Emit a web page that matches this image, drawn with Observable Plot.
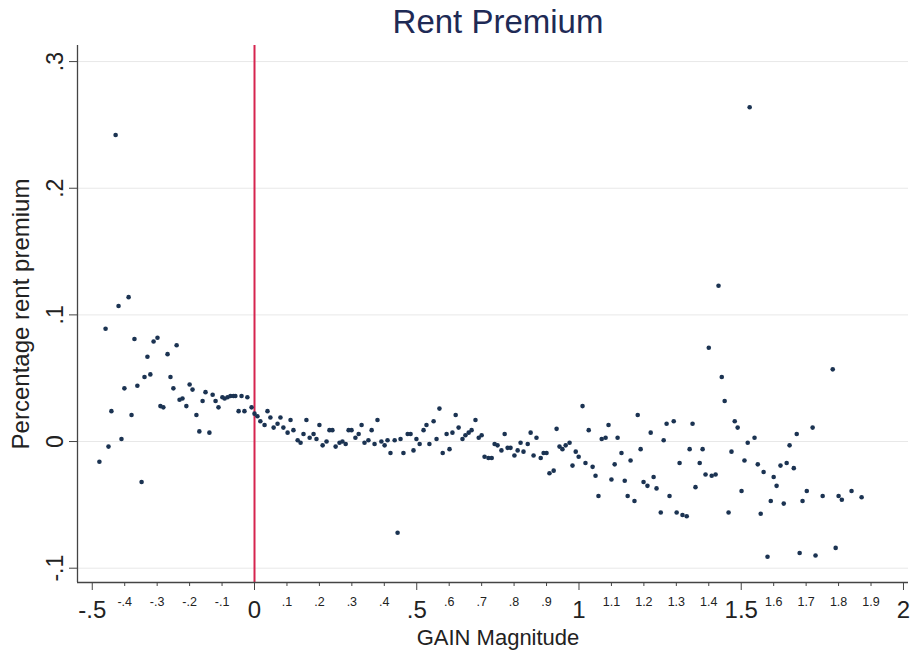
<!DOCTYPE html>
<html>
<head>
<meta charset="utf-8">
<script src="https://cdn.jsdelivr.net/npm/d3@7"></script>
<script src="https://cdn.jsdelivr.net/npm/@observablehq/plot@0.6"></script>
<style>
  html, body { margin: 0; padding: 0; background: #fff; }
  #wrap { position: relative; width: 910px; height: 652px; font-family: "Liberation Sans", Arial, sans-serif; }
  #title { position: absolute; top: 4px; left: 0; width: 910px; padding-left: 86px; box-sizing: border-box;
           text-align: center; font-size: 33px; line-height: 36px; color: #1e2a55; }
  #chart { position: absolute; top: 0; left: 0; }
</style>
</head>
<body>
<div id="wrap">
  <div id="chart"></div>
  <div id="title">Rent Premium</div>
</div>
<script>
const titleText = "Rent Premium";
const yTitle = "Percentage rent premium";
const xTitle = "GAIN Magnitude";

const yTicks = [0.3, 0.2, 0.1, 0, -0.1];
const yTickLabels = [".3", ".2", ".1", "0", "-.1"];
const xMajor = [-0.5, 0, 0.5, 1, 1.5, 2];
const xMajorLabels = ["-.5", "0", ".5", "1", "1.5", "2"];
const xMinor = [-0.4, -0.3, -0.2, -0.1, 0.1, 0.2, 0.3, 0.4, 0.6, 0.7, 0.8, 0.9, 1.1, 1.2, 1.3, 1.4, 1.6, 1.7, 1.8, 1.9];
const xMinorLabels = ["-.4", "-.3", "-.2", "-.1", ".1", ".2", ".3", ".4", ".6", ".7", ".8", ".9", "1.1", "1.2", "1.3", "1.4", "1.6", "1.7", "1.8", "1.9"];
const refLine = [0];

const gainX = [
-0.478,-0.459,-0.450,-0.441,-0.428,-0.419,-0.410,-0.401,-0.388,-0.379,-0.370,-0.361,-0.348,-0.339,-0.330,-0.321,-0.311,-0.299,-0.290,-0.281,
-0.268,-0.259,-0.250,-0.240,-0.231,-0.222,-0.210,-0.200,-0.191,-0.179,-0.170,-0.160,-0.151,-0.139,-0.129,-0.120,-0.111,-0.099,-0.092,-0.083,
-0.074,-0.065,-0.059,-0.049,-0.040,-0.031,-0.022,-0.009,
0.000,0.009,0.018,0.031,0.040,0.049,0.059,0.071,0.080,0.089,0.102,0.111,0.120,0.133,0.142,0.151,0.160,0.170,0.182,0.191,
0.200,0.210,0.222,0.231,0.240,0.250,0.262,0.271,0.281,0.290,0.299,0.311,0.321,0.330,0.339,0.351,0.361,0.370,0.379,0.391,
0.401,0.410,0.419,0.432,0.441,0.450,0.459,0.472,0.481,0.490,0.499,0.509,0.521,0.530,0.539,0.552,0.561,0.570,0.580,0.592,
0.601,0.610,0.620,0.629,0.641,0.650,0.660,0.669,0.681,0.691,0.700,0.709,0.721,0.731,0.740,0.749,0.761,0.771,0.780,0.789,
0.801,0.811,0.820,0.829,0.842,0.851,0.860,0.869,0.882,0.891,0.900,0.909,0.922,0.931,0.940,0.949,0.959,0.971,0.980,0.990,
0.999,1.011,1.020,1.030,1.042,1.051,1.060,1.070,1.082,1.091,1.100,1.110,1.119,1.131,1.141,1.150,1.159,1.171,1.181,1.190,
1.199,1.211,1.221,1.230,1.239,1.252,1.261,1.270,1.279,1.292,1.301,1.310,1.319,1.332,1.341,1.350,1.359,1.372,1.381,1.390,
1.400,1.409,1.421,1.430,1.440,1.449,1.461,1.470,1.480,1.489,1.501,1.510,1.520,1.526,1.541,1.551,1.560,1.569,1.581,1.591,
1.600,1.609,1.621,1.631,1.640,1.649,1.662,1.671,1.680,1.689,1.702,1.720,1.729,1.751,1.782,1.791,1.800,1.810,1.840,1.871
];
const premium = [
-0.016,0.089,-0.004,0.024,0.242,0.107,0.002,0.042,0.114,0.021,0.081,0.044,-0.032,0.051,0.067,0.053,0.079,0.082,0.028,0.027,
0.069,0.051,0.042,0.076,0.033,0.034,0.028,0.045,0.041,0.021,0.008,0.032,0.039,0.007,0.037,0.032,0.027,0.035,0.034,0.035,
0.036,0.036,0.036,0.024,0.036,0.024,0.035,0.027,
0.022,0.020,0.016,0.013,0.024,0.019,0.011,0.014,0.019,0.011,0.007,0.017,0.009,0.001,-0.001,0.006,0.017,0.003,0.006,0.002,
0.013,-0.003,0.000,0.009,0.009,-0.004,-0.001,0.000,-0.002,0.009,0.009,0.003,0.006,0.013,-0.001,0.001,0.009,-0.002,0.017,0.000,
-0.003,0.001,-0.009,0.001,-0.072,0.002,-0.009,0.006,0.006,-0.007,0.002,-0.002,0.009,0.013,-0.002,0.016,0.002,0.026,-0.009,0.006,
-0.006,0.007,0.021,0.011,0.002,0.005,0.007,0.009,0.017,0.003,0.005,-0.012,-0.013,-0.013,-0.002,-0.003,-0.007,0.006,-0.005,-0.005,
-0.011,-0.007,-0.001,-0.008,-0.002,0.007,-0.011,0.003,-0.013,-0.009,-0.009,-0.025,-0.023,0.010,-0.004,-0.006,-0.003,-0.001,-0.019,-0.008,
-0.012,0.028,-0.017,0.009,-0.020,-0.027,-0.043,0.002,0.003,0.013,-0.030,-0.018,0.003,-0.009,-0.031,-0.043,-0.015,-0.047,0.021,-0.006,
-0.032,-0.035,0.007,-0.028,-0.037,-0.056,0.001,0.014,-0.043,0.016,-0.056,-0.017,-0.058,-0.059,-0.006,0.014,-0.036,-0.017,-0.006,-0.026,
0.074,-0.027,-0.026,0.123,0.051,0.032,-0.056,-0.008,0.016,0.011,-0.039,-0.015,-0.001,0.264,0.003,-0.018,-0.057,-0.024,-0.091,-0.047,
-0.028,-0.035,-0.019,-0.049,-0.017,-0.003,-0.021,0.006,-0.088,-0.047,-0.039,0.011,-0.090,-0.043,0.057,-0.084,-0.043,-0.046,-0.039,-0.044
];

const data = gainX.map((x, i) => ({x, y: premium[i]}));
const xDomain = [-0.5455, 2.0155];
const yDomain = [-0.1113, 0.3127];
const labelOf = (ticks, labels) => v => labels[ticks.indexOf(v)];
const ink = "#222";

const chart = Plot.plot({
  width: 910,
  height: 652,
  marginTop: 45,
  marginBottom: 70,
  marginLeft: 77,
  marginRight: 2,
  x: {domain: xDomain, axis: null},
  y: {domain: yDomain, axis: null},
  style: {fontFamily: "'Liberation Sans', Arial, sans-serif", background: "#fff", color: ink},
  marks: [
    Plot.ruleY(yTicks, {stroke: "#e8e8e8", strokeWidth: 1}),
    Plot.ruleX(refLine, {stroke: "#d6244f", strokeWidth: 2}),
    Plot.dot(data, {x: "x", y: "y", r: 2.3, fill: "#1b3352", stroke: null}),
    Plot.ruleX([xDomain[0]], {stroke: "#444", strokeWidth: 1.3}),
    Plot.ruleY([yDomain[0]], {stroke: "#444", strokeWidth: 1.3}),
    Plot.axisY({ticks: yTicks, tickSize: 8, tickFormat: () => "", stroke: "#444", label: null}),
    Plot.text(yTicks, {y: d => d, frameAnchor: "left", text: labelOf(yTicks, yTickLabels), rotate: -90,
      dx: -22, fontSize: 23, textAnchor: "middle", lineAnchor: "middle", fill: ink}),
    Plot.axisX({ticks: xMajor, tickSize: 8, tickPadding: 10, tickFormat: labelOf(xMajor, xMajorLabels),
      fontSize: 24, stroke: "#444", fill: ink, label: null}),
    Plot.axisX({ticks: xMinor, tickSize: 4, tickPadding: 11, tickFormat: labelOf(xMinor, xMinorLabels),
      fontSize: 12.5, stroke: "#444", fill: ink, label: null}),
    Plot.text([yTitle], {frameAnchor: "left", dx: -56, rotate: -90, fontSize: 24, textAnchor: "middle", lineAnchor: "middle", fill: ink}),
    Plot.text([xTitle], {frameAnchor: "bottom", dy: 55, fontSize: 22, dx: 5, textAnchor: "middle", lineAnchor: "middle", fill: ink})
  ]
});
document.getElementById("chart").append(chart);
</script>
</body>
</html>
